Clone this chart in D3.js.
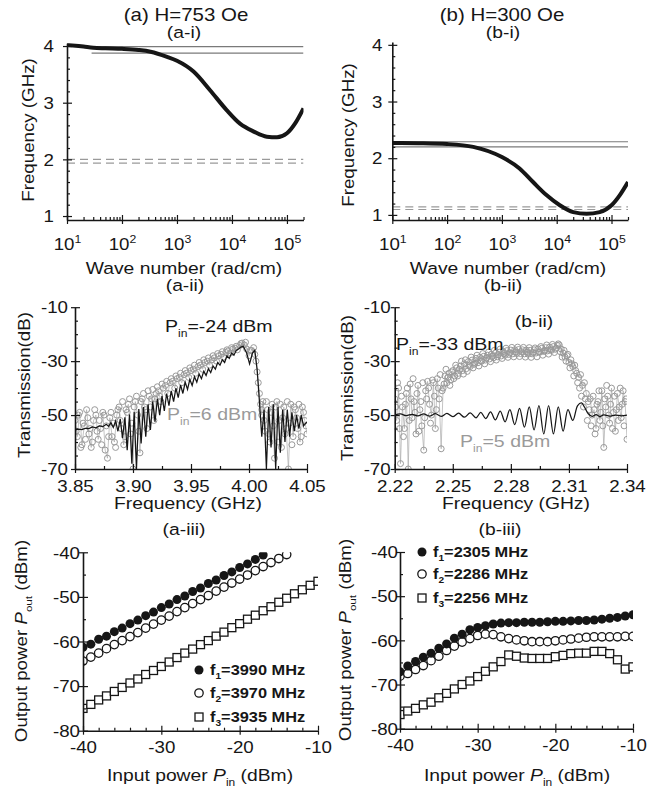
<!DOCTYPE html>
<html><head><meta charset="utf-8">
<script src="https://cdn.jsdelivr.net/npm/d3@7"></script>
<style>body{margin:0;background:#fff}</style>
</head><body><svg id="c" width="667" height="790"></svg>
<script>
// ---------------- DATA ----------------
// (a-i) dispersion, H=753 Oe : [wave number rad/cm, GHz]
const aiCurve = [[10,4.02],[20,3.99],[30,3.97],[50,3.96],[100,3.95],[200,3.93],[330,3.90],[660,3.81],[1000,3.74],[2000,3.55],[4000,3.22],[8000,2.87],[14000,2.63],[25000,2.49],[43000,2.40],[66000,2.39],[100000,2.46],[140000,2.63],[200000,2.90]];
const aiSolid = [[10,3.99],[28,3.875]];      // [start k, level]
const aiDashed = [2.0, 1.935];
// (b-i) dispersion, H=300 Oe
const biCurve = [[10,2.27],[30,2.265],[100,2.25],[300,2.20],[1000,2.02],[2100,1.82],[3700,1.58],[6500,1.35],[11400,1.17],[20000,1.05],[35000,1.02],[61000,1.05],[100000,1.17],[142000,1.35],[200000,1.58]];
const biSolid = [[10,2.29],[10,2.20]];
const biDashed = [1.14, 1.095];

// (a-ii) transmission [GHz, dB]
const a2Low = [[3.850,-55.5],[3.853,-55.2],[3.856,-55.4],[3.859,-54.9],[3.862,-55.0],[3.865,-54.4],[3.868,-54.7],[3.871,-54.0],[3.874,-54.3],[3.877,-53.4],[3.879,-54.2],[3.881,-52.8],[3.883,-54.6],[3.885,-52.2],[3.887,-56.0],[3.889,-51.5],[3.891,-58.5],[3.893,-50.8],[3.895,-63.0],[3.897,-49.8],[3.899,-68.0],[3.901,-48.8],[3.903,-70.0],[3.905,-47.8],[3.907,-60.5],[3.909,-47.0],[3.911,-58.0],[3.913,-46.0],[3.915,-55.5],[3.917,-45.0],[3.919,-52.5],[3.921,-44.0],[3.923,-50.0],[3.925,-43.0],[3.927,-48.5],[3.929,-42.0],[3.931,-46.5],[3.933,-41.0],[3.935,-45.0],[3.937,-40.0],[3.939,-43.5],[3.941,-38.8],[3.943,-42.0],[3.945,-37.8],[3.947,-40.5],[3.949,-36.8],[3.951,-39.0],[3.953,-35.8],[3.955,-37.8],[3.957,-34.8],[3.959,-36.5],[3.961,-33.8],[3.963,-35.3],[3.965,-32.8],[3.967,-34.2],[3.969,-31.8],[3.971,-33.0],[3.973,-30.5],[3.975,-31.5],[3.977,-29.5],[3.979,-30.5],[3.981,-28.0],[3.983,-29.0],[3.985,-27.0],[3.987,-27.8],[3.989,-26.0],[3.991,-25.5],[3.993,-24.8],[3.995,-24.5],[3.998,-27.0],[4.0005,-31.0],[4.003,-27.0],[4.005,-26.0],[4.007,-33.0],[4.009,-45.0],[4.011,-58.0],[4.013,-48.0],[4.015,-70.0],[4.017,-47.0],[4.019,-62.0],[4.021,-46.0],[4.023,-70.0],[4.025,-47.0],[4.027,-64.0],[4.029,-48.0],[4.031,-60.0],[4.033,-48.0],[4.035,-58.0],[4.037,-49.0],[4.039,-56.0],[4.041,-50.0],[4.043,-55.0],[4.045,-50.0],[4.047,-54.0],[4.050,-52.5]];
const a2High = [[3.850,-52],[3.852,-58],[3.854,-49],[3.856,-61],[3.858,-54],[3.860,-48],[3.862,-57],[3.864,-62],[3.866,-52],[3.868,-50],[3.870,-59],[3.872,-55],[3.874,-49],[3.876,-63],[3.878,-66],[3.880,-51],[3.882,-58],[3.884,-60],[3.886,-50],[3.888,-47],[3.890,-55],[3.892,-61],[3.894,-48],[3.896,-46],[3.898,-57],[3.900,-70],[3.902,-45],[3.904,-50],[3.906,-64],[3.908,-44],[3.910,-47],[3.912,-55],[3.914,-43],[3.916,-44],[3.918,-52],[3.920,-42],[3.922,-41],[3.924,-45],[3.926,-40],[3.928,-39],[3.930,-42],[3.932,-38],[3.934,-37.5],[3.936,-40],[3.938,-36.5],[3.940,-36],[3.942,-38],[3.944,-35],[3.946,-34.5],[3.948,-36],[3.950,-33.5],[3.952,-33],[3.954,-34.5],[3.956,-32],[3.958,-31.5],[3.960,-33],[3.962,-30.5],[3.964,-30],[3.966,-31.5],[3.968,-29.5],[3.970,-28.8],[3.972,-30],[3.974,-28],[3.976,-27.5],[3.978,-28.5],[3.980,-26.8],[3.982,-26.2],[3.984,-27],[3.986,-25.5],[3.988,-25.2],[3.990,-25.8],[3.992,-24.2],[3.994,-23.3],[3.996,-24],[3.998,-25.5],[4.000,-28],[4.002,-26],[4.004,-25],[4.006,-30],[4.007,-34],[4.008,-38],[4.009,-42],[4.010,-46],[4.011,-50],[4.012,-45],[4.014,-56],[4.016,-48],[4.018,-60],[4.020,-46],[4.022,-66],[4.024,-45],[4.026,-52],[4.028,-62],[4.030,-47],[4.032,-55],[4.034,-70],[4.036,-46],[4.038,-58],[4.040,-48],[4.042,-55],[4.044,-60],[4.046,-47],[4.048,-52],[4.050,-57]];
const a2High2 = [[3.851,-56],[3.853,-50],[3.855,-62],[3.857,-53],[3.859,-59],[3.861,-51],[3.863,-55],[3.865,-60],[3.867,-48],[3.869,-56],[3.871,-52],[3.873,-61],[3.875,-50],[3.877,-54],[3.879,-58],[3.881,-49],[3.883,-53],[3.885,-62],[3.887,-48],[3.889,-52],[3.891,-45],[3.893,-58],[3.895,-49],[3.897,-44],[3.899,-53],[3.901,-47],[3.903,-43],[3.905,-56],[3.907,-45],[3.909,-42],[3.911,-48],[3.913,-41],[3.915,-47],[3.917,-40.5],[3.919,-44],[3.921,-39.5],[3.923,-43],[3.925,-38.5],[3.929,-37.5],[3.933,-36.5],[3.937,-35.5],[3.941,-34.5],[3.945,-33.5],[3.949,-32.5],[3.953,-31.5],[3.957,-30.5],[3.961,-29.5],[3.965,-28.8],[3.969,-28],[3.973,-27.2],[3.977,-26.5],[3.981,-25.8],[3.985,-25],[3.989,-24.5],[3.993,-23.5],[3.997,-23],[4.001,-26],[4.005,-27.5],[4.011,-48],[4.013,-52],[4.015,-45],[4.017,-57],[4.019,-49],[4.021,-54],[4.023,-47],[4.025,-60],[4.027,-46],[4.029,-51],[4.031,-57],[4.033,-45],[4.035,-53],[4.037,-61],[4.039,-47],[4.041,-51],[4.043,-46],[4.045,-58],[4.047,-49],[4.049,-54]];

// (b-ii) transmission [GHz, dB]
const b2Low = [[2.220,-50],[2.223,-49.6],[2.226,-50.2],[2.229,-49.7],[2.232,-50.3],[2.235,-49.6],[2.238,-50.4],[2.241,-49.5],[2.244,-50.5],[2.247,-49.4],[2.250,-50.6],[2.253,-49.3],[2.256,-50.8],[2.259,-49.2],[2.262,-51],[2.2645,-49],[2.267,-51.3],[2.2695,-48.8],[2.272,-51.8],[2.2745,-48.5],[2.277,-52.5],[2.2795,-48],[2.282,-53.5],[2.2845,-47.5],[2.287,-54.5],[2.2895,-47],[2.292,-55.5],[2.2945,-46.5],[2.297,-57],[2.2995,-46.5],[2.302,-57],[2.3045,-47],[2.307,-56],[2.3095,-48],[2.312,-52],[2.3145,-46.5],[2.3165,-45.5],[2.318,-47],[2.320,-49.5],[2.322,-50.5],[2.324,-49.8],[2.326,-50.6],[2.328,-49.9],[2.331,-50.4],[2.334,-50],[2.337,-50.3],[2.340,-50]];
const b2High = [[2.220,-44],[2.221,-52],[2.222,-40],[2.223,-68],[2.224,-47],[2.225,-55],[2.226,-42],[2.227,-70],[2.228,-38.5],[2.229,-51],[2.230,-45],[2.231,-57],[2.232,-39],[2.233,-48],[2.234,-54],[2.235,-63],[2.236,-41],[2.237,-37.5],[2.238,-46],[2.239,-50],[2.240,-38],[2.241,-55],[2.242,-36.5],[2.243,-44],[2.244,-62.5],[2.245,-40],[2.246,-35.5],[2.247,-38],[2.248,-34.5],[2.249,-37],[2.250,-33.5],[2.251,-35.5],[2.252,-32.5],[2.253,-34.5],[2.254,-31.8],[2.255,-33.5],[2.256,-31],[2.257,-32.8],[2.258,-30.2],[2.259,-32],[2.260,-29.6],[2.261,-31.2],[2.262,-29],[2.263,-30.6],[2.264,-28.6],[2.265,-30],[2.266,-28.2],[2.267,-29.6],[2.268,-27.8],[2.269,-29.2],[2.270,-27.4],[2.271,-28.8],[2.272,-27],[2.273,-28.4],[2.274,-26.7],[2.275,-28.1],[2.276,-26.4],[2.277,-27.8],[2.278,-26.1],[2.279,-27.5],[2.280,-25.9],[2.281,-27.3],[2.282,-25.8],[2.283,-27.2],[2.284,-25.7],[2.285,-27.2],[2.286,-25.8],[2.287,-27.3],[2.288,-25.9],[2.289,-27.4],[2.290,-26],[2.291,-27.3],[2.292,-25.8],[2.293,-27],[2.294,-25.5],[2.295,-26.7],[2.296,-25.2],[2.297,-26.4],[2.298,-25],[2.299,-26.2],[2.300,-24.8],[2.301,-26],[2.302,-24.6],[2.303,-25.6],[2.304,-24.2],[2.305,-24],[2.306,-25.5],[2.307,-27],[2.308,-28.5],[2.309,-28],[2.310,-30.5],[2.311,-29.5],[2.312,-32],[2.313,-31.5],[2.314,-34.5],[2.315,-36],[2.316,-35],[2.317,-39],[2.318,-38],[2.319,-42],[2.320,-45],[2.321,-44],[2.322,-50],[2.323,-48],[2.324,-55],[2.325,-45],[2.326,-52],[2.327,-41],[2.328,-62],[2.329,-47],[2.330,-43],[2.331,-53],[2.332,-40],[2.333,-49],[2.334,-56],[2.335,-42],[2.336,-47],[2.337,-51],[2.338,-41],[2.339,-45],[2.340,-59]];
const b2High2 = [[2.2205,-47],[2.2215,-38],[2.2225,-55],[2.2235,-43],[2.2245,-58],[2.2255,-46],[2.2265,-40],[2.2275,-52],[2.2285,-44],[2.2295,-36.5],[2.2305,-49],[2.2315,-42],[2.2325,-56],[2.2335,-45],[2.2345,-38],[2.2355,-51],[2.2365,-44],[2.2375,-40],[2.2385,-53],[2.2395,-37],[2.2405,-43],[2.2415,-48],[2.2425,-40],[2.2435,-35],[2.2445,-41],[2.2455,-38.5],[2.2465,-33],[2.2475,-36],[2.2485,-39],[2.2495,-34],[2.2505,-36.5],[2.2515,-31.5],[2.2525,-35.5],[2.2535,-33],[2.2545,-30],[2.2555,-34.8],[2.2565,-29.5],[2.2575,-33.8],[2.2585,-31.5],[2.2595,-28.5],[2.2605,-32.5],[2.2615,-30.8],[2.2625,-27.8],[2.2635,-31.8],[2.2645,-29.8],[2.2655,-27.2],[2.2665,-31],[2.2675,-28.8],[2.2685,-26.6],[2.2695,-30.2],[2.2705,-28.2],[2.2715,-26],[2.2725,-29.6],[2.2735,-27.7],[2.2745,-25.5],[2.2755,-29],[2.2765,-27.2],[2.2775,-25.2],[2.2785,-28.6],[2.2795,-27],[2.2805,-24.9],[2.2815,-28.4],[2.2825,-26.6],[2.2835,-24.8],[2.2845,-28.3],[2.2855,-26.5],[2.2865,-24.9],[2.2875,-28.5],[2.2885,-26.7],[2.2895,-25],[2.2905,-28.6],[2.2915,-26.8],[2.2925,-25.1],[2.2935,-28.4],[2.2945,-26.6],[2.2955,-24.6],[2.2965,-27.8],[2.2975,-26.2],[2.2985,-24],[2.2995,-27.4],[2.3005,-25.8],[2.3015,-23.8],[2.3025,-26.8],[2.3035,-25.2],[2.3045,-23.6],[2.3055,-26.5],[2.3065,-28.5],[2.3075,-26],[2.3085,-30],[2.3095,-27.5],[2.3105,-32.5],[2.3115,-31],[2.3125,-35.5],[2.3135,-33.5],[2.3145,-38],[2.3155,-40],[2.3165,-43],[2.3175,-47],[2.3185,-44],[2.3195,-52],[2.3205,-48],[2.3215,-54],[2.3225,-43],[2.3235,-57],[2.3245,-46],[2.3255,-41],[2.3265,-49],[2.3275,-54],[2.3285,-44],[2.3295,-39],[2.3305,-50],[2.3315,-46],[2.3325,-55],[2.3335,-43],[2.3345,-48],[2.3355,-52],[2.3365,-40],[2.3375,-46],[2.3385,-54],[2.3395,-44]];

// (a-iii) output power vs input power
const pinA = [-40,-39,-38,-37,-36,-35,-34,-33,-32,-31,-30,-29,-28,-27,-26,-25,-24,-23,-22,-21,-20,-19,-18,-17,-16,-15,-14,-13,-12,-11,-10];
const a3f1 = [-61.3,-60.6,-59.5,-58.8,-57.8,-57.0,-56.0,-55.2,-54.2,-53.4,-52.4,-51.6,-50.6,-49.8,-48.8,-48.0,-47.0,-46.2,-45.2,-44.4,-43.4,-42.6,-41.6,-40.6];
const a3f2 = [-64.4,-63.5,-62.6,-61.6,-60.7,-59.8,-58.9,-58.0,-57.0,-56.1,-55.2,-54.3,-53.3,-52.4,-51.5,-50.6,-49.7,-48.7,-47.8,-46.9,-46.0,-45.1,-44.1,-43.2,-42.3,-41.4,-40.5];
const a3f3 = [-75.0,-74.1,-73.1,-72.2,-71.2,-70.3,-69.3,-68.4,-67.4,-66.5,-65.6,-64.6,-63.6,-62.6,-61.7,-60.7,-59.8,-58.8,-57.9,-56.9,-56.0,-55.0,-54.1,-53.1,-52.2,-51.2,-50.3,-49.3,-48.4,-47.4,-46.5];
const a3Legend = ["3990","3970","3935"];
// (b-iii)
const pinB = pinA;
const b3f1 = [-67.1,-65.8,-64.8,-63.8,-62.9,-61.8,-60.8,-59.5,-58.6,-57.6,-57.1,-56.7,-56.3,-56.1,-56.0,-56.0,-55.9,-55.9,-55.9,-55.8,-55.7,-55.7,-55.6,-55.5,-55.5,-55.4,-55.2,-55.0,-54.8,-54.5,-54.2];
const b3f2 = [-68.1,-67.5,-66.6,-65.7,-64.6,-63.6,-62.3,-61.3,-60.4,-59.6,-58.9,-58.6,-58.7,-59.2,-59.6,-59.9,-60.1,-60.3,-60.3,-60.3,-60.1,-59.9,-59.7,-59.5,-59.3,-59.2,-59.2,-59.2,-59.2,-59.1,-59.1];
const b3f3 = [-76.8,-76.0,-75.4,-74.6,-74.0,-73.0,-72.0,-71.0,-70.0,-69.2,-68.2,-67.0,-66.0,-64.8,-63.3,-63.6,-64.0,-64.1,-64.1,-64.1,-63.7,-63.4,-63.0,-62.9,-62.9,-62.5,-62.5,-63.0,-64.4,-66.5,-66.0];
const b3Legend = ["2305","2286","2256"];

// ---------------- DRAWING ----------------
const FONT = '"Liberation Sans", Arial, Helvetica, sans-serif';
const SX = 1.17, INK = '#161616', GREY = '#9a9a9a';
const TICK = 16;
const svg = d3.select('#c');

function rich(g, x, y, segs, size, o = {}) {
  const t = g.append('text')
    .attr('transform', `translate(${x},${y})${o.rot ? ' rotate(-90)' : ''} scale(${SX},1)`)
    .attr('text-anchor', o.anchor || 'middle').attr('font-size', size)
    .attr('fill', o.fill || INK).attr('font-family', FONT);
  if (o.bold) t.attr('font-weight', 'bold');
  let shift = 0;
  (typeof segs === 'string' ? [{t: segs}] : segs).forEach(s => {
    const sp = t.append('tspan').text(s.t);
    const target = s.sub ? size * 0.32 : (s.sup ? -size * 0.45 : 0);
    if (target !== shift) { sp.attr('dy', target - shift); shift = target; }
    if (s.sub || s.sup) sp.attr('font-size', size * 0.62);
    if (s.it) sp.attr('font-style', 'italic');
  });
  return t;
}

function axes(g, x, y, c) {
  const yb = y.range()[0], xl = x.range()[0];
  const st = s => { s.selectAll('.tick line').attr('stroke', INK).attr('stroke-width', 1.2); s.selectAll('path.domain').attr('stroke', INK).attr('stroke-width', 1.6); };
  const noDom = s => s.select('.domain').remove();
  // bottom
  const gx = g.append('g').attr('transform', `translate(0,${yb})`);
  gx.append('g').call(d3.axisBottom(x).tickValues(c.xMinor).tickSize(-3).tickSizeOuter(0).tickFormat('')).call(noDom).call(st);
  gx.append('g').call(d3.axisBottom(x).tickValues(c.xMajor).tickSize(-5).tickSizeOuter(0).tickFormat('')).call(noDom).call(st);
  const bx = gx.append('g').call(d3.axisBottom(x).tickValues(c.xMajor).tickSize(4).tickSizeOuter(0).tickFormat(c.xFmt)).call(st);
  bx.selectAll('.tick text').attr('y', c.xLab).attr('dy', 0).attr('transform', `scale(${SX},1)`)
    .attr('font-size', TICK).attr('font-family', FONT).attr('fill', INK);
  if (c.log) {
    bx.selectAll('.tick text').each(function (d) {
      const t = d3.select(this); t.text('');
      t.append('tspan').text('10');
      t.append('tspan').attr('dy', -7).attr('font-size', 10.5).text(Math.round(Math.log10(d)));
    });
  }
  // left
  const gy = g.append('g').attr('transform', `translate(${xl},0)`);
  gy.append('g').call(d3.axisLeft(y).tickValues(c.yMinor).tickSize(-3).tickSizeOuter(0).tickFormat('')).call(noDom).call(st);
  gy.append('g').call(d3.axisLeft(y).tickValues(c.yMajor).tickSize(-5).tickSizeOuter(0).tickFormat('')).call(noDom).call(st);
  const ly = gy.append('g').call(d3.axisLeft(y).tickValues(c.yMajor).tickSize(4).tickSizeOuter(0).tickFormat(c.yFmt)).call(st);
  ly.selectAll('.tick text').attr('x', -c.yGap / SX).attr('dy', '0.36em').attr('transform', `scale(${SX},1)`)
    .attr('font-size', TICK).attr('font-family', FONT).attr('fill', INK);
}

let clipN = 0;
function clip(g, x, y) {
  const id = 'clip' + (clipN++);
  const [x0, x1] = x.range(), [y0, y1] = y.range();
  g.append('clipPath').attr('id', id).append('rect').attr('x', x0).attr('y', y1).attr('width', x1 - x0).attr('height', y0 - y1);
  return g.append('g').attr('clip-path', `url(#${id})`);
}

const range = (a, b, s) => d3.range(a, b + s / 2, s).map(v => +v.toFixed(4));
const logMinor = [];
[10, 100, 1000, 10000].forEach(d => { for (let m = 2; m <= 9; m++) logMinor.push(m * d); });
logMinor.push(200000);
const numFmt = d => String(d);

// ---- (a-i), (b-i) ----
function dispersion(xr, yr, yDom, curve, solid, dashed, yGap) {
  const g = svg.append('g');
  const x = d3.scaleLog().domain([10, 2e5]).range(xr);
  const y = d3.scaleLinear().domain(yDom).range(yr);
  const p = clip(g, x, y);
  solid.forEach(([k0, v]) => p.append('line').attr('x1', x(k0)).attr('x2', x(2e5)).attr('y1', y(v)).attr('y2', y(v))
    .attr('stroke', '#7a7a7a').attr('stroke-width', 1.1));
  dashed.forEach(v => p.append('line').attr('x1', x(10)).attr('x2', x(2e5)).attr('y1', y(v)).attr('y2', y(v))
    .attr('stroke', GREY).attr('stroke-width', 1.2).attr('stroke-dasharray', '8,5'));
  p.append('path').datum(curve).attr('fill', 'none').attr('stroke', INK).attr('stroke-width', 4)
    .attr('d', d3.line().x(d => x(d[0])).y(d => y(d[1])).curve(d3.curveMonotoneX));
  axes(g, x, y, {xMajor: [10, 100, 1000, 10000, 100000], xMinor: logMinor, xFmt: () => '', log: true, xLab: 30,
    yMajor: [1, 2, 3, 4], yMinor: range(1.2, 3.8, 0.2).filter(v => Math.abs(v - Math.round(v)) > 0.01), yFmt: numFmt, yGap});
  return g;
}
dispersion([67, 303.5], [220, 43.2], [0.93, 4.05], aiCurve, aiSolid, aiDashed, 13);
dispersion([392.3, 628], [220, 42], [0.91, 4.05], biCurve, biSolid, biDashed, 10);

// ---- (a-ii), (b-ii) ----
function transmission(xr, xDom, low, highs, xMajor, xMinor, xFmt, yGap) {
  const g = svg.append('g');
  const x = d3.scaleLinear().domain(xDom).range(xr);
  const y = d3.scaleLinear().domain([-70, -10]).range([469, 307.2]);
  const p = clip(g, x, y);
  // connecting line of the first sweep only (thin), circles of all sweeps
  p.append('path').datum(highs[0]).attr('fill', 'none').attr('stroke', '#ababab').attr('stroke-width', 0.7)
    .attr('d', d3.line().x(d => x(d[0])).y(d => y(d[1])));
  highs.forEach(high => {
    p.append('g').selectAll('circle').data(high).join('circle').attr('cx', d => x(d[0])).attr('cy', d => y(d[1])).attr('r', 3)
      .attr('fill', 'none').attr('stroke', GREY).attr('stroke-width', 1);
  });
  p.append('path').datum(low).attr('fill', 'none').attr('stroke', INK).attr('stroke-width', 1.25)
    .attr('d', d3.line().x(d => x(d[0])).y(d => y(d[1])).curve(low.curve || d3.curveLinear));
  axes(g, x, y, {xMajor, xMinor, xFmt, xLab: 23, yMajor: [-70, -50, -30, -10], yMinor: [-65, -60, -55, -45, -40, -35, -25, -20, -15], yFmt: numFmt, yGap});
  return g;
}
transmission([75, 307], [3.85, 4.05], a2Low, [a2High, a2High2], [3.85, 3.90, 3.95, 4.00, 4.05], [3.875, 3.925, 3.975, 4.025], d => d.toFixed(2), 7);
b2Low.curve = d3.curveCatmullRom;
transmission([394.7, 627], [2.22, 2.34], b2Low, [b2High, b2High2], [2.22, 2.25, 2.28, 2.31, 2.34], [2.235, 2.265, 2.295, 2.325], d => d.toFixed(2), 4);

// ---- (a-iii), (b-iii) ----
function symbol(g, kind, cx, cy) {
  if (kind === 0) g.append('circle').attr('cx', cx).attr('cy', cy).attr('r', 4.5).attr('fill', INK);
  else if (kind === 1) g.append('circle').attr('cx', cx).attr('cy', cy).attr('r', 4.2).attr('fill', '#fff').attr('stroke', INK).attr('stroke-width', 1.3);
  else g.append('rect').attr('x', cx - 4).attr('y', cy - 4).attr('width', 8).attr('height', 8).attr('fill', '#fff').attr('stroke', INK).attr('stroke-width', 1.3);
}
function power(xr, yr, pin, series, legend, legX, legY, yGap) {
  const g = svg.append('g');
  const x = d3.scaleLinear().domain([-40, -10]).range(xr);
  const y = d3.scaleLinear().domain([-80, -40]).range(yr);
  const p = clip(g, x, y);
  [2, 1, 0].forEach(k => series[k].forEach((v, i) => symbol(p, k, x(pin[i]), y(v))));
  axes(g, x, y, {xMajor: [-40, -30, -20, -10], xMinor: range(-38, -12, 2).filter(v => v % 10 !== 0), xFmt: numFmt, xLab: 22,
    yMajor: [-80, -70, -60, -50, -40], yMinor: [-75, -65, -55, -45], yFmt: numFmt, yGap});
  legend.forEach((f, i) => {
    const cy = legY[i];
    symbol(g, i, legX, cy);
    rich(g, legX + 11, cy + 5, [{t: 'f'}, {t: String(i + 1), sub: true}, {t: '=' + f + ' MHz'}], 14, {anchor: 'start', bold: true});
  });
}
power([83, 318], [730.7, 552.3], pinA, [a3f1, a3f2, a3f3], a3Legend, 199, [670, 693, 717], 3);
power([400, 633], [728.7, 552], pinB, [b3f1, b3f2, b3f3], b3Legend, 422, [552, 574, 598], 2);

// ---- text ----
const T = svg.append('g');
rich(T, 186, 21, '(a) H=753 Oe', 17.5);
rich(T, 184, 38, '(a-i)', 16.5);
rich(T, 502, 21, '(b) H=300 Oe', 17.5);
rich(T, 503, 38, '(b-i)', 16.5);
rich(T, 185, 291, '(a-ii)', 16.5);
rich(T, 503, 291, '(b-ii)', 16.5);
rich(T, 534, 327, '(b-ii)', 16.5);
rich(T, 184, 535, '(a-iii)', 16.5);
rich(T, 500, 535, '(b-iii)', 16.5);
rich(T, 184, 274, 'Wave number (rad/cm)', 16.5);
rich(T, 508, 274, 'Wave number (rad/cm)', 16.5);
rich(T, 188, 509, 'Frequency (GHz)', 16.5);
rich(T, 516, 509, 'Frequency (GHz)', 16.5);
rich(T, 200, 781, [{t: 'Input power '}, {t: 'P', it: true}, {t: 'in', sub: true}, {t: ' (dBm)'}], 16.5);
rich(T, 517, 781, [{t: 'Input power '}, {t: 'P', it: true}, {t: 'in', sub: true}, {t: ' (dBm)'}], 16.5);
rich(T, 34, 130, 'Frequency (GHz)', 16, {rot: true});
rich(T, 354, 135, 'Frequency (GHz)', 16, {rot: true});
rich(T, 30, 385, 'Transmission(dB)', 16, {rot: true});
rich(T, 353, 388, 'Transmission(dB)', 16, {rot: true});
rich(T, 27, 641, [{t: 'Output power '}, {t: 'P', it: true}, {t: 'out', sub: true}, {t: ' (dBm)'}], 16, {rot: true});
rich(T, 351, 640, [{t: 'Output power '}, {t: 'P', it: true}, {t: 'out', sub: true}, {t: ' (dBm)'}], 16, {rot: true});
rich(T, 165, 332, [{t: 'P'}, {t: 'in', sub: true}, {t: '=-24 dBm'}], 16.7, {anchor: 'start'});
rich(T, 167, 420, [{t: 'P'}, {t: 'in', sub: true}, {t: '=6 dBm'}], 16.7, {anchor: 'start', fill: GREY});
rich(T, 396, 350, [{t: 'P'}, {t: 'in', sub: true}, {t: '=-33 dBm'}], 16.7, {anchor: 'start'});
rich(T, 460, 447, [{t: 'P'}, {t: 'in', sub: true}, {t: '=5 dBm'}], 16.7, {anchor: 'start', fill: GREY});
</script></body></html>
